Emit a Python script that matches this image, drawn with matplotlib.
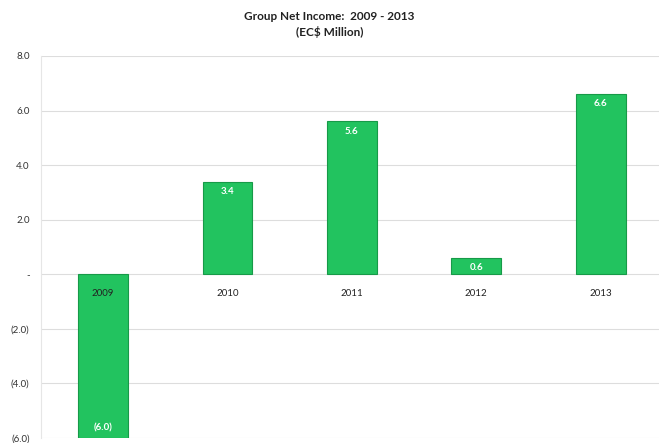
import matplotlib.pyplot as plt
import numpy as np

plt.rcParams['font.family'] = ['Lato', 'DejaVu Sans']

# Group net income by year (EC$ million)
years = ['2009', '2010', '2011', '2012', '2013']
net_income = [-6.0, 3.4, 5.6, 0.6, 6.6]
yticks = [-6, -4, -2, 0, 2, 4, 6, 8]


def fmt(v):
    if v == 0:
        return '-'
    if v < 0:
        return f'({abs(v):.1f})'
    return f'{v:.1f}'


fig = plt.figure(figsize=(6.59, 4.43), dpi=100)
ax = fig.add_axes([0.062, 0.0113, 0.944, 0.8623])

x = np.arange(len(years))
bars = ax.bar(x, net_income, width=0.4, color='#22c35f', edgecolor='#179a48',
              linewidth=0.8, zorder=2)

ax.set_ylim(-6, 8)
ax.set_xlim(-0.5, len(years) - 0.5)
ax.set_yticks(yticks)
ax.set_yticklabels([fmt(v) for v in yticks], fontsize=7, color='#333333')
ax.set_xticks([])
ax.grid(axis='y', color='#dddddd', linewidth=0.8, zorder=0)
ax.set_axisbelow(True)
ax.tick_params(axis='y', length=0, pad=8)
for side in ['top', 'right', 'bottom']:
    ax.spines[side].set_visible(False)
ax.spines['left'].set_color('#e6e6e6')

# year labels sit just under the zero line
for xi, yr in zip(x, years):
    ax.annotate(yr, (xi, 0), xytext=(0, -14), textcoords='offset points',
                ha='center', va='center', fontsize=7, color='#222222', zorder=4)

# values written inside the bar ends
for xi, v in zip(x, net_income):
    off = -7 if v > 0 else 7
    ax.annotate(fmt(v), (xi, v), xytext=(0, off), textcoords='offset points',
                ha='center', va='center', fontsize=7, fontweight='bold',
                color='white', zorder=4)

fig.text(0.5, 0.963, 'Group Net Income:  2009 - 2013', ha='center', va='center',
         fontsize=8.5, fontweight='bold', color='#222222')
fig.text(0.5, 0.927, '(EC$ Million)', ha='center', va='center',
         fontsize=8.5, fontweight='bold', color='#222222')

fig.savefig('out.png', dpi=100)
